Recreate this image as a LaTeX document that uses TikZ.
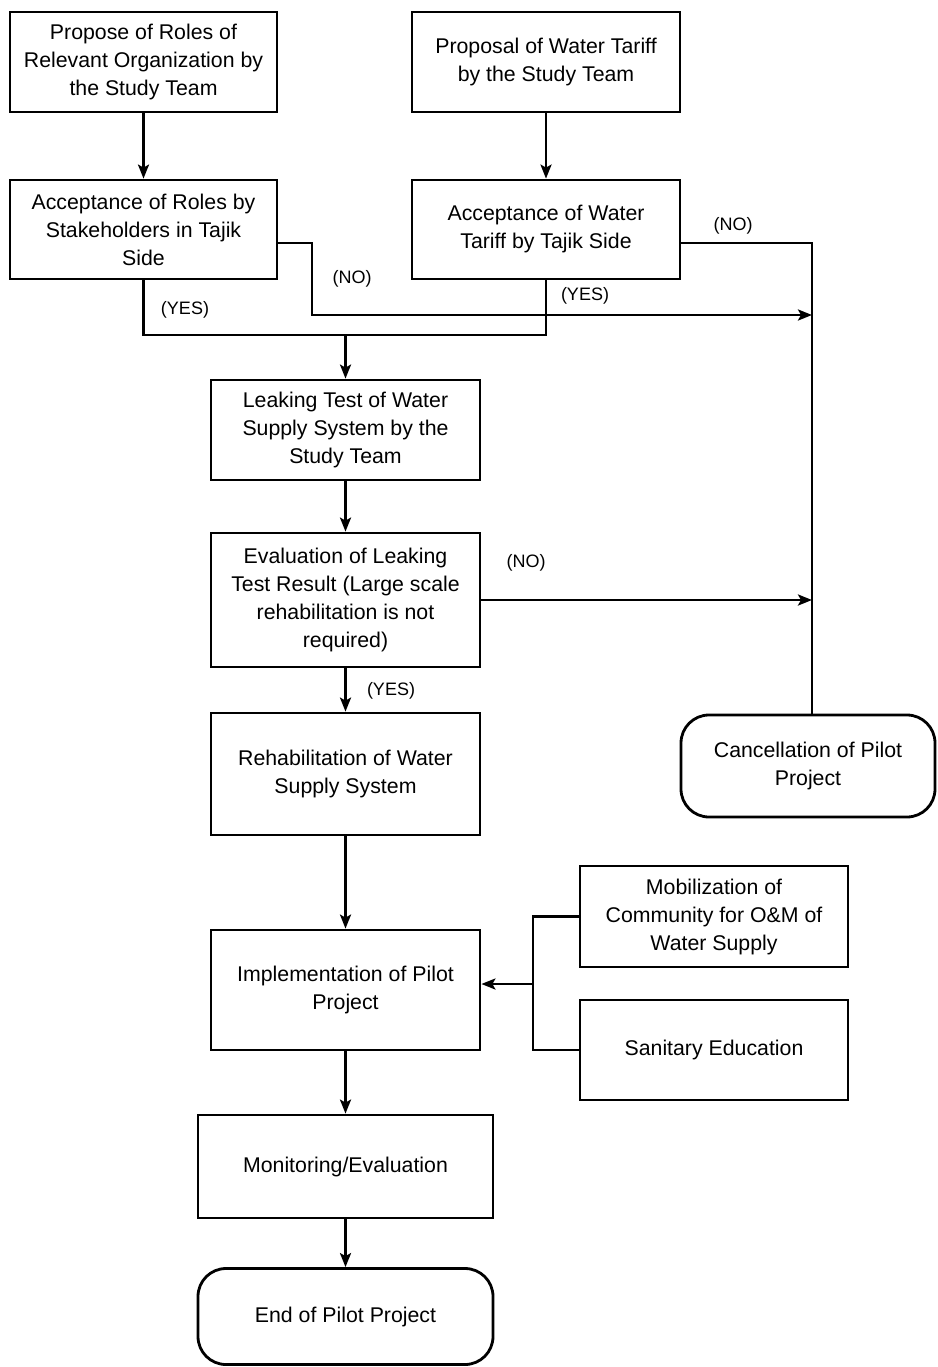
\documentclass[tikz,border=0pt]{standalone}
\usepackage{fontspec}
\setmainfont{Liberation Sans}
\usetikzlibrary{arrows.meta}
\begin{document}
\begin{tikzpicture}[x=1pt,y=-1pt,
  box/.style={draw,line width=2.8pt,align=center,inner sep=0pt,
    font=\fontsize{21.3}{28}\selectfont},
  termbox/.style={box,rounded corners=28pt},
  link/.style={line width=2.6pt},
  arr/.style={link,-{Stealth[length=14pt,width=11pt,inset=3pt]}},
  lbl/.style={font=\fontsize{18}{22}\selectfont,inner sep=0pt}]
\useasboundingbox (0,0) rectangle (937,1367);

% process steps
\node[box,minimum width=267pt,minimum height=100pt] (A) at (143.5,62)
  {Propose of Roles of\\Relevant Organization by\\the Study Team};
\node[box,minimum width=268pt,minimum height=100pt] (B) at (546,62)
  {Proposal of Water Tariff\\by the Study Team};
\node[box,minimum width=267pt,minimum height=99pt] (C) at (143.5,229.5)
  {Acceptance of Roles by\\Stakeholders in Tajik\\Side};
\node[box,minimum width=268pt,minimum height=99pt] (D) at (546,229.5)
  {Acceptance of Water\\Tariff by Tajik Side};
\node[box,minimum width=269pt,minimum height=100pt] (E) at (345.5,430)
  {Leaking Test of Water\\Supply System by the\\Study Team};
\node[box,minimum width=269pt,minimum height=134pt] (F) at (345.5,600)
  {Evaluation of Leaking\\Test Result (Large scale\\rehabilitation is not\\required)};
\node[box,minimum width=269pt,minimum height=122pt] (G) at (345.5,774)
  {Rehabilitation of Water\\Supply System};
\node[box,minimum width=269pt,minimum height=120pt] (H) at (345.5,990)
  {Implementation of Pilot\\Project};
\node[box,minimum width=268pt,minimum height=101pt] (I) at (714,916.5)
  {Mobilization of\\Community for O\&M of\\Water Supply};
\node[box,minimum width=268pt,minimum height=100pt] (J) at (714,1050)
  {Sanitary Education};
\node[box,minimum width=295pt,minimum height=103pt] (K) at (345.5,1166.5)
  {Monitoring/Evaluation};
\node[termbox,minimum width=295pt,minimum height=96pt] (L) at (345.5,1316.5)
  {End of Pilot Project};
\node[termbox,minimum width=254pt,minimum height=102pt] (X) at (808,766)
  {Cancellation of Pilot\\Project};

% junction points
\coordinate (rail) at (812,243);
\coordinate (noBend) at (312,315);
\coordinate (merge) at (345.5,335);
\coordinate (br) at (533,984);

% top row down to the decisions
\draw[arr] (A) -- (C);
\draw[arr] (B) -- (D);

% rejections lead to the cancellation rail
\draw[link] ([yshift=-13.5pt]D.east) -- (rail) -- (rail |- X.north);
\draw[arr] ([yshift=-13.5pt]C.east) -| (noBend) -- (noBend -| rail);
\draw[arr] (F.east) -- (F.east -| rail);

% both accepted: merge into the leaking test
\draw[link] (C.south) -- (C.south |- merge) -- (D.south |- merge) -- (D.south);
\draw[arr] (merge) -- (E.north);

% main sequence
\draw[arr] (E) -- (F);
\draw[arr] (F) -- (G);
\draw[arr] (G) -- (H);
\draw[arr] (H) -- (K);
\draw[arr] (K) -- (L);

% supporting activities
\draw[link] (I.west) -- (I.west -| br) -- (J.west -| br) -- (J.west);
\draw[arr] (br) -- (br -| H.east);

% decision labels
\node[lbl] at (352,279) {(NO)};
\node[lbl] at (733,226) {(NO)};
\node[lbl] at (185,310) {(YES)};
\node[lbl] at (585,296) {(YES)};
\node[lbl] at (526,563) {(NO)};
\node[lbl] at (391,691) {(YES)};
\end{tikzpicture}
\end{document}
